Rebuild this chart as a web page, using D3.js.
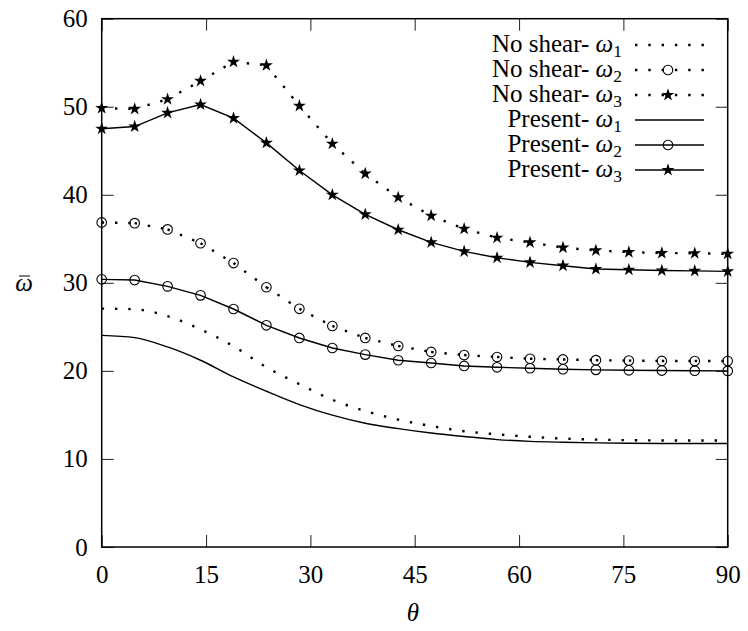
<!DOCTYPE html>
<html><head><meta charset="utf-8">
<script src="https://cdn.jsdelivr.net/npm/d3@7"></script>
<style>
body{margin:0;background:#fff;}
svg text{font-family:"Liberation Serif","Times New Roman",serif !important;fill:#000;}
</style></head>
<body><svg id="c" width="748" height="631"></svg>
<script>
// ---- data ----
const theta = [0, 4.74, 9.47, 14.21, 18.95, 23.68, 28.42, 33.16, 37.89, 42.63, 47.37, 52.11, 56.84, 61.58, 66.32, 71.05, 75.79, 80.53, 85.26, 90];
const noShear1 = [27.07, 27.0, 26.22, 24.72, 22.8, 20.42, 18.5, 16.72, 15.45, 14.47, 13.74, 13.15, 12.8, 12.52, 12.31, 12.2, 12.13, 12.1, 12.1, 12.1];
const noShear2 = [36.86, 36.78, 36.07, 34.5, 32.25, 29.5, 27.05, 25.1, 23.74, 22.83, 22.15, 21.8, 21.58, 21.38, 21.3, 21.22, 21.17, 21.13, 21.12, 21.12];
const noShear3 = [49.85, 49.75, 50.85, 52.93, 55.1, 54.7, 50.1, 45.8, 42.4, 39.7, 37.62, 36.14, 35.12, 34.59, 34.0, 33.68, 33.49, 33.38, 33.36, 33.3];
const present1 = [24.04, 23.78, 22.72, 21.21, 19.32, 17.69, 16.18, 14.97, 14.05, 13.45, 12.95, 12.55, 12.2, 12.0, 11.9, 11.83, 11.78, 11.76, 11.76, 11.76];
const present2 = [30.4, 30.32, 29.6, 28.58, 27.03, 25.18, 23.74, 22.6, 21.85, 21.21, 20.9, 20.56, 20.41, 20.3, 20.19, 20.12, 20.07, 20.04, 20.02, 20.0];
const present3 = [47.5, 47.75, 49.3, 50.25, 48.7, 45.9, 42.76, 40.0, 37.77, 36.03, 34.59, 33.57, 32.85, 32.32, 31.95, 31.57, 31.49, 31.4, 31.36, 31.3];
const xTicks = [0, 15, 30, 45, 60, 75, 90];
const yTicks = [0, 10, 20, 30, 40, 50, 60];
const seriesNames = ["No shear- ", "No shear- ", "No shear- ", "Present- ", "Present- ", "Present- "];
const seriesSubs = ["1", "2", "3", "1", "2", "3"];

const series = [
  {vals: noShear1, dotted: true, marker: null, smooth: true},
  {vals: noShear2, dotted: true, marker: "circle"},
  {vals: noShear3, dotted: true, marker: "star"},
  {vals: present1, dotted: false, marker: null, smooth: true},
  {vals: present2, dotted: false, marker: "circle"},
  {vals: present3, dotted: false, marker: "star"}
].map((s, i) => ({...s, name: seriesNames[i], sub: seriesSubs[i]}));

// ---- layout ----
const FONT = '"Liberation Serif","Times New Roman",serif';
const svg = d3.select("#c");
const L = 101.7, R = 727.7, T = 18.7, B = 547;
const x = d3.scaleLinear().domain([0, 90]).range([L, R]);
const y = d3.scaleLinear().domain([0, 60]).range([B, T]);
const FS = 25;
const DASH = "2.4,10.9";

// axes
function styleAxis(g, labels) {
  g.attr("font-family", FONT).attr("font-size", FS);
  g.select(".domain").remove();
  g.selectAll(".tick line").attr("stroke", "#333").attr("stroke-width", 1.1);
  g.selectAll(".tick text").style("font-size", FS + "px").style("font-family", FONT);
  if (!labels) g.selectAll(".tick text").remove();
}
svg.append("g").attr("transform", `translate(0,${B})`)
  .call(d3.axisBottom(x).tickValues(xTicks).tickSizeInner(-12).tickSizeOuter(0).tickPadding(18))
  .call(g => styleAxis(g, true));
svg.append("g").attr("transform", `translate(0,${T})`)
  .call(d3.axisTop(x).tickValues(xTicks).tickSizeInner(-12).tickSizeOuter(0))
  .call(g => styleAxis(g, false));
svg.append("g").attr("transform", `translate(${L},0)`)
  .call(d3.axisLeft(y).tickValues(yTicks).tickSizeInner(-12).tickSizeOuter(0).tickPadding(14))
  .call(g => styleAxis(g, true));
svg.append("g").attr("transform", `translate(${R},0)`)
  .call(d3.axisRight(y).tickValues(yTicks).tickSizeInner(-12).tickSizeOuter(0))
  .call(g => styleAxis(g, false));

// frame
svg.append("rect").attr("x", L).attr("y", T).attr("width", R - L).attr("height", B - T)
  .attr("fill", "none").attr("stroke", "#000").attr("stroke-width", 1.5);

// lines
const lineLin = d3.line().x(d => x(d[0])).y(d => y(d[1]));
const lineSmooth = d3.line().x(d => x(d[0])).y(d => y(d[1])).curve(d3.curveMonotoneX);
const plot = svg.append("g");
const starSym = d3.symbol().type(d3.symbolStar).size(52);
function drawMarker(g, type, cx, cy) {
  if (type === "circle") {
    g.append("circle").attr("cx", cx).attr("cy", cy).attr("r", 4.8)
      .attr("fill", "none").attr("stroke", "#000").attr("stroke-width", 1.1);
  } else if (type === "star") {
    g.append("path").attr("d", starSym()).attr("transform", `translate(${cx},${cy})`)
      .attr("fill", "#000");
  }
}
series.forEach(s => {
  const pts = theta.map((t, i) => [t, s.vals[i]]);
  if (s.dotted && s.marker) {
    // dotted pattern restarts at every vertex
    const segs = d3.pairs(pts);
    plot.selectAll(null).data(segs).enter().append("path")
      .attr("d", d => lineLin(d)).attr("fill", "none")
      .attr("stroke", "#000").attr("stroke-width", 2.4).attr("stroke-dasharray", DASH);
  } else {
    plot.append("path").attr("d", (s.smooth ? lineSmooth : lineLin)(pts)).attr("fill", "none")
      .attr("stroke", "#000").attr("stroke-width", s.dotted ? 2.4 : 1.4)
      .attr("stroke-dasharray", s.dotted ? DASH : null);
  }
  if (s.marker) pts.forEach(p => drawMarker(plot, s.marker, x(p[0]), y(p[1])));
});

// legend
const lg = svg.append("g");
series.forEach((s, i) => {
  const yy = 45 + i * 25;
  const t = lg.append("text").attr("x", 622).attr("y", yy + 7).attr("text-anchor", "end")
    .style("font-size", FS + "px");
  t.append("tspan").text(s.name);
  t.append("tspan").style("font-style", "italic").text("ω");
  t.append("tspan").attr("dy", 5).style("font-size", (FS * 0.7) + "px").text(s.sub);
  lg.append("line").attr("x1", 635).attr("x2", 704).attr("y1", yy).attr("y2", yy)
    .attr("stroke", "#000").attr("stroke-width", s.dotted ? 2.4 : 1.4)
    .attr("stroke-dasharray", s.dotted ? DASH : null);
  if (s.marker) drawMarker(lg, s.marker, 668, yy);
});

// axis titles
svg.append("text").attr("x", 413).attr("y", 621).attr("text-anchor", "middle")
  .style("font-size", FS + "px").style("font-style", "italic").text("θ");
svg.append("text").attr("x", 24).attr("y", 291).attr("text-anchor", "middle")
  .style("font-size", FS + "px").style("font-style", "italic").text("ω");
svg.append("line").attr("x1", 19).attr("x2", 30).attr("y1", 276).attr("y2", 276)
  .attr("stroke", "#000").attr("stroke-width", 1);
</script></body></html>
